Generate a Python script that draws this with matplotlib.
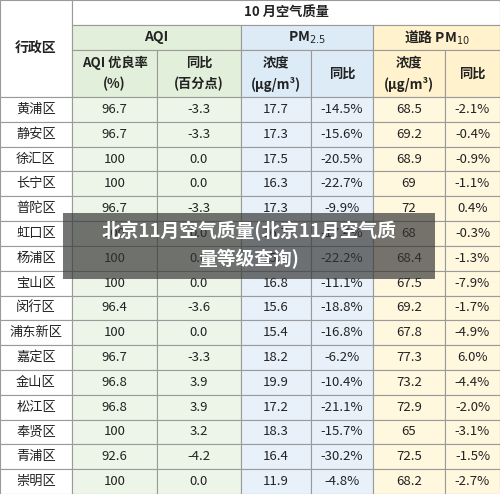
import matplotlib
matplotlib.use("Agg")
import matplotlib.pyplot as plt
from matplotlib.patches import Rectangle

plt.rcParams["font.family"] = ["Noto Sans CJK SC", "DejaVu Sans"]

districts = ["黄浦区", "静安区", "徐汇区", "长宁区", "普陀区", "虹口区", "杨浦区", "宝山区",
             "闵行区", "浦东新区", "嘉定区", "金山区", "松江区", "奉贤区", "青浦区", "崇明区"]
aqi_rate = ["96.7", "96.7", "100", "100", "96.7", "100", "100", "100",
            "96.4", "100", "96.7", "96.8", "96.8", "100", "92.6", "100"]
aqi_yoy = ["-3.3", "-3.3", "0.0", "0.0", "-3.3", "0.0", "0.0", "0.0",
           "-3.6", "0.0", "-3.3", "3.9", "3.9", "3.2", "-4.2", "0.0"]
pm25 = ["17.7", "17.3", "17.5", "16.3", "17.3", "16.7", "15.5", "16.8",
        "15.6", "15.4", "18.2", "19.9", "17.2", "18.3", "16.4", "11.9"]
pm25_yoy = ["-14.5%", "-15.6%", "-20.5%", "-22.7%", "-9.9%", "-17.4%", "-22.2%", "-11.1%",
            "-18.8%", "-16.8%", "-6.2%", "-10.4%", "-21.1%", "-15.7%", "-30.2%", "-4.8%"]
pm10 = ["68.5", "69.2", "68.9", "69", "72", "68", "68.4", "67.5",
        "69.2", "67.8", "77.3", "73.2", "72.9", "65", "72.5", "68.2"]
pm10_yoy = ["-2.1%", "-0.4%", "-0.9%", "-1.1%", "0.4%", "-0.3%", "-1.3%", "-7.9%",
            "-1.7%", "-4.9%", "6.0%", "-4.4%", "-2.0%", "-3.1%", "-1.5%", "-2.7%"]

cols = [0, 72, 157, 241, 311, 373, 445, 500]
row_h = (494 - 97) / len(districts)

hdr_fill = ["#e2efda", "#e2efda", "#ddebf7", "#ddebf7", "#fff2cc", "#fff2cc"]
body_fill = ["#edf5e8", "#edf5e8", "#e8f1fa", "#e8f1fa", "#fff7de", "#fff7de"]

fig = plt.figure(figsize=(5.0, 4.94), dpi=100)
ax = fig.add_axes([0, 0, 1, 1])
ax.set_xlim(0, 500)
ax.set_ylim(494, 0)
ax.axis("off")

def cell(x0, x1, y0, y1, fc, text="", **kw):
    ax.add_patch(Rectangle((x0, y0), x1 - x0, y1 - y0, fc=fc, ec="#9a9a9a", lw=0.8))
    if text:
        ax.text((x0 + x1) / 2, (y0 + y1) / 2, text, ha="center", va="center",
                fontsize=kw.pop("fs", 9.5), color="#222222", **kw)

cell(0, 72, 0, 97, "white", "行政区", fs=10, fontweight="bold")
cell(72, 500, 0, 25, "white", "10 月空气质量", fs=9.5, fontweight="bold")
cell(72, 241, 25, 50, hdr_fill[0], "AQI", fs=10, fontweight="bold")
cell(241, 373, 25, 50, hdr_fill[2], "PM$_{2.5}$", fs=10, fontweight="bold")
cell(373, 500, 25, 50, hdr_fill[4], "道路 PM$_{10}$", fs=10, fontweight="bold")
sub = ["AQI 优良率\n(%)", "同比\n(百分点)", "浓度\n(μg/m³)", "同比", "浓度\n(μg/m³)", "同比"]
for i, t in enumerate(sub):
    cell(cols[i + 1], cols[i + 2], 50, 97, hdr_fill[i], t, fs=9.5, fontweight="bold", linespacing=1.6)

data = [aqi_rate, aqi_yoy, pm25, pm25_yoy, pm10, pm10_yoy]
for r, d in enumerate(districts):
    y0 = 97 + r * row_h
    cell(0, 72, y0, y0 + row_h, "white", d)
    for c in range(6):
        cell(cols[c + 1], cols[c + 2], y0, y0 + row_h, body_fill[c], data[c][r])

ax.add_patch(Rectangle((63, 213), 372, 66, fc="#333333", alpha=0.68, ec="none", zorder=5))
ax.text(249, 231, "北京11月空气质量(北京11月空气质", ha="center", va="center",
        fontsize=13.5, color="white", fontweight="bold", zorder=6)
ax.text(249, 259, "量等级查询)", ha="center", va="center",
        fontsize=13.5, color="white", fontweight="bold", zorder=6)

fig.savefig("out.png", dpi=100)
